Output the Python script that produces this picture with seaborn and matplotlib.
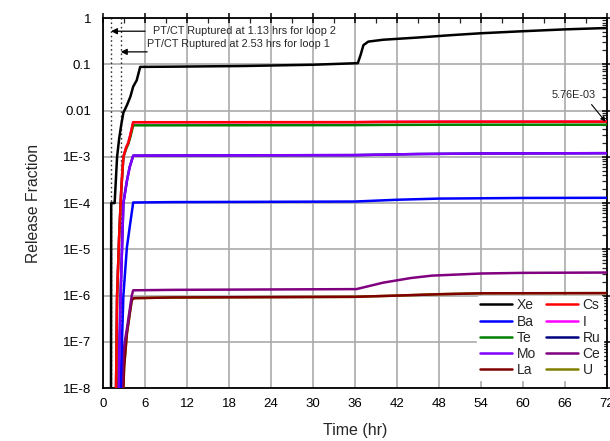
import numpy as np
import pandas as pd
import matplotlib
matplotlib.use("Agg")
import matplotlib.pyplot as plt
import seaborn as sns
from matplotlib.lines import Line2D
from matplotlib.ticker import MultipleLocator, LogLocator, FixedLocator, FixedFormatter, NullFormatter

sns.set_style("white")
plt.rcParams["font.family"] = ["Liberation Sans", "DejaVu Sans"]

# ---------------- data ----------------
xe_t = [1.13, 1.16, 1.65, 2.0, 2.3, 2.6, 2.9, 3.4, 3.9, 4.3, 4.8, 5.3, 10, 20, 30, 36.4, 36.8, 37.2, 37.9, 40, 45, 50, 54, 60, 66, 72]
xe_v = [1e-8, 1e-4, 1e-4, 1e-3, 2.5e-3, 5e-3, 9e-3, 0.013, 0.02, 0.033, 0.045, 0.088, 0.089, 0.092, 0.098, 0.106, 0.16, 0.26, 0.31, 0.34, 0.38, 0.43, 0.47, 0.52, 0.57, 0.61]

cs_t = [1.85, 2.0, 2.3, 2.6, 2.9, 3.3, 3.6, 3.9, 4.3, 10, 36, 40, 50, 72]
cs_v = [1e-8, 1e-6, 2e-5, 2e-4, 1e-3, 1.6e-3, 2e-3, 3e-3, 5.6e-3, 5.6e-3, 5.62e-3, 5.7e-3, 5.75e-3, 5.76e-3]

te_t = [1.85, 2.0, 2.3, 2.6, 2.9, 3.3, 3.6, 3.9, 4.3, 10, 36, 40, 50, 72]
te_v = [1e-8, 1e-6, 2e-5, 2e-4, 1e-3, 1.5e-3, 1.9e-3, 2.7e-3, 4.8e-3, 4.8e-3, 4.85e-3, 4.9e-3, 4.95e-3, 4.95e-3]

i_t = [1.85, 2.0, 2.3, 2.6, 2.9, 3.3, 3.6, 3.9, 4.3, 10, 36, 40, 50, 72]
i_v = [1e-8, 1e-6, 2e-5, 2e-4, 1e-3, 1.6e-3, 2e-3, 3e-3, 5.6e-3, 5.6e-3, 5.62e-3, 5.7e-3, 5.75e-3, 5.76e-3]

mo_t = [2.2, 2.5, 2.7, 2.9, 3.4, 3.8, 4.3, 10, 36, 45, 54, 72]
mo_v = [1e-8, 1e-6, 1e-5, 1e-4, 3e-4, 6e-4, 1.06e-3, 1.07e-3, 1.09e-3, 1.15e-3, 1.18e-3, 1.2e-3]

ru_t = [2.2, 2.5, 2.7, 2.9, 3.4, 3.8, 4.3, 10, 36, 45, 54, 72]
ru_v = [1e-8, 1e-6, 1e-5, 1e-4, 3e-4, 6e-4, 1.06e-3, 1.07e-3, 1.09e-3, 1.15e-3, 1.18e-3, 1.2e-3]

ba_t = [2.5, 2.9, 3.4, 3.8, 4.3, 10, 36, 42, 48, 60, 72]
ba_v = [1e-8, 1e-6, 1.1e-5, 3e-5, 1.03e-4, 1.05e-4, 1.08e-4, 1.18e-4, 1.25e-4, 1.29e-4, 1.3e-4]

ce_t = [2.7, 2.9, 3.1, 3.4, 4.1, 4.3, 10, 36.2, 40, 44, 47, 54, 60, 72]
ce_v = [1e-8, 6e-8, 1e-7, 1.9e-7, 1e-6, 1.3e-6, 1.33e-6, 1.38e-6, 1.9e-6, 2.4e-6, 2.7e-6, 3.0e-6, 3.1e-6, 3.15e-6]

la_t = [2.9, 3.0, 3.4, 3.8, 4.1, 4.4, 10, 36, 42, 48, 54, 72]
la_v = [1e-8, 2.8e-8, 1.5e-7, 4e-7, 8e-7, 8.8e-7, 9.1e-7, 9.4e-7, 1.0e-6, 1.07e-6, 1.12e-6, 1.13e-6]

u_t = [2.9, 3.0, 3.4, 3.8, 4.1, 4.4, 10, 36, 42, 48, 54, 72]
u_v = [1e-8, 2.8e-8, 1.5e-7, 4e-7, 8e-7, 8.8e-7, 9.1e-7, 9.4e-7, 1.0e-6, 1.07e-6, 1.12e-6, 1.13e-6]

series = {
    "Xe": (xe_t, xe_v), "Cs": (cs_t, cs_v), "Ba": (ba_t, ba_v), "I": (i_t, i_v),
    "Te": (te_t, te_v), "Ru": (ru_t, ru_v), "Mo": (mo_t, mo_v), "Ce": (ce_t, ce_v),
    "La": (la_t, la_v), "U": (u_t, u_v),
}
colors = {
    "Xe": "#000000", "Cs": "#ff0000", "Ba": "#0000ff", "I": "#ff00ff",
    "Te": "#008000", "Ru": "#000080", "Mo": "#8000ff", "Ce": "#800080",
    "La": "#800000", "U": "#808000",
}
legend_order = ["Xe", "Ba", "Te", "Mo", "La", "Cs", "I", "Ru", "Ce", "U"]
draw_order = ["U", "I", "Ru", "La", "Ce", "Ba", "Mo", "Te", "Cs", "Xe"]

x_ticks = [0, 6, 12, 18, 24, 30, 36, 42, 48, 54, 60, 66, 72]
y_ticks = [1e-8, 1e-7, 1e-6, 1e-5, 1e-4, 1e-3, 1e-2, 1e-1, 1]
y_labels = ["1E-8", "1E-7", "1E-6", "1E-5", "1E-4", "1E-3", "0.01", "0.1", "1"]
rupture_times = [1.13, 2.53]

rows = []
for name in draw_order:
    t, v = series[name]
    for a, b in zip(t, v):
        rows.append({"t": a, "v": b, "species": name})
df = pd.DataFrame(rows)

# ---------------- figure ----------------
fig = plt.figure(figsize=(6.1, 4.41), dpi=100)
ax = fig.add_axes([0.169, 0.120, 0.826, 0.839])
ax.set_yscale("log")

sns.lineplot(data=df, x="t", y="v", hue="species", hue_order=draw_order,
             palette=colors, estimator=None, sort=False, legend=False,
             linewidth=1.8, ax=ax, zorder=3)

for rt in rupture_times:
    ax.axvline(rt, color="#333333", linestyle=(0, (1.2, 2.0)), linewidth=1.0, zorder=2)

ax.set_xlim(0, 72)
ax.set_ylim(1e-8, 1)

ax.xaxis.set_major_locator(FixedLocator(x_ticks))
ax.xaxis.set_minor_locator(MultipleLocator(3))
ax.yaxis.set_major_locator(FixedLocator(y_ticks))
ax.yaxis.set_major_formatter(FixedFormatter(y_labels))
ax.yaxis.set_minor_locator(LogLocator(base=10, subs=np.arange(2, 10), numticks=30))
ax.yaxis.set_minor_formatter(NullFormatter())

ax.grid(True, which="major", color="#aaaaaa", linewidth=1.2, zorder=0)
ax.set_axisbelow(True)
for s in ax.spines.values():
    s.set_color("black")
    s.set_linewidth(1.3)

ax.tick_params(which="major", direction="inout", length=7, width=1.1,
               top=True, right=True, labelsize=9.5, colors="black")
ax.tick_params(axis="y", which="major", pad=5)
ax.tick_params(axis="x", which="major", pad=4)
ax.tick_params(which="minor", direction="in", length=3.5, width=0.9,
               top=True, right=True)

ax.set_xlabel("Time (hr)", fontsize=11.5, labelpad=9)
ax.set_ylabel("Release Fraction", fontsize=11.3, labelpad=16)

# annotations
ax.annotate("", xy=(1.13, 0.52), xytext=(6.0, 0.52),
            arrowprops=dict(arrowstyle="-|>", color="black", lw=0.9,
                            mutation_scale=9, shrinkA=0, shrinkB=0))
ax.text(7.1, 0.52, "PT/CT Ruptured at 1.13 hrs for loop 2", fontsize=7.8,
        ha="left", va="center")
ax.annotate("", xy=(2.53, 0.186), xytext=(6.3, 0.186),
            arrowprops=dict(arrowstyle="-|>", color="black", lw=0.9,
                            mutation_scale=9, shrinkA=0, shrinkB=0))
ax.text(6.3, 0.28, "PT/CT Ruptured at 2.53 hrs for loop 1", fontsize=7.8,
        ha="left", va="center")
ax.annotate("", xy=(71.8, 5.76e-3), xytext=(69.8, 0.0135),
            arrowprops=dict(arrowstyle="-|>", color="black", lw=0.8,
                            mutation_scale=7, shrinkA=0, shrinkB=0))
ax.text(64.1, 0.0216, "5.76E-03", fontsize=7.8, ha="left", va="center")

handles = [Line2D([0], [0], color=colors[n], lw=1.8) for n in legend_order]
leg = ax.legend(handles, legend_order, ncol=2, loc="lower right",
                bbox_to_anchor=(1.006, 0.003), frameon=True, fontsize=10,
                handlelength=2.3, handletextpad=0.35, columnspacing=0.7,
                labelspacing=0.16, borderpad=0.2)
leg.get_frame().set_edgecolor("white")
leg.get_frame().set_facecolor("white")
leg.get_frame().set_alpha(1.0)

fig.savefig("out.png", dpi=100)
